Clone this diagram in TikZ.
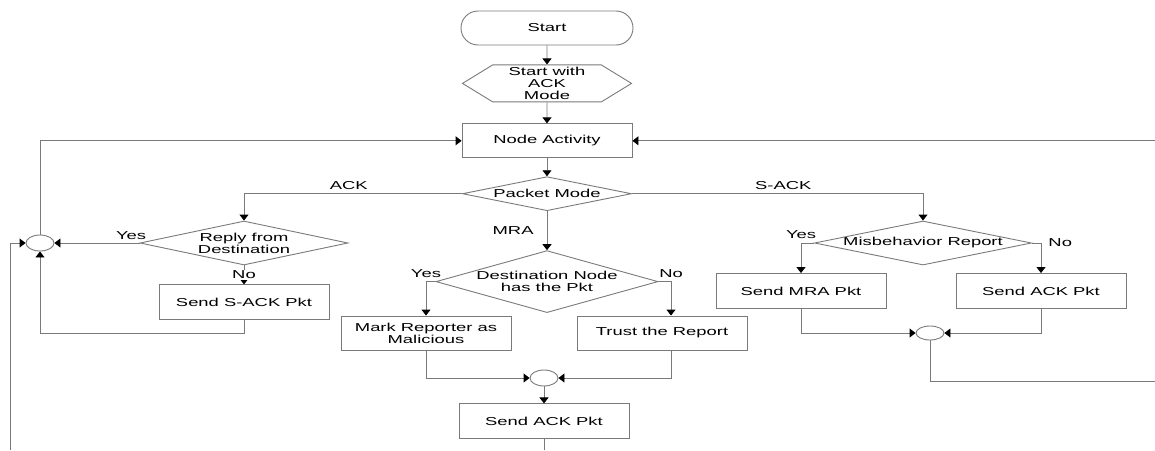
\documentclass[tikz,border=0pt]{standalone}
\usepackage{fontspec}
\usepackage{tikz}
\usetikzlibrary{arrows.meta, positioning, shapes.geometric, shapes.symbols}
\newfontfamily\flowfont{Liberation Sans}[FakeStretch=1.6]
\definecolor{flowgray}{HTML}{7A7A7A}

\begin{document}
\begin{tikzpicture}[
  x=1pt, y=1pt,
  font=\flowfont\fontsize{11.5}{12}\selectfont,
  line width=0.9pt,
  term/.style={draw=flowgray, rounded corners=17pt, minimum width=172pt, minimum height=34pt},
  hexa/.style={draw=flowgray, signal, signal to=west and east, signal pointer angle=63,
               minimum width=169pt, minimum height=37pt, inner sep=0pt, align=center},
  proc/.style={draw=flowgray, align=center, minimum width=170pt, minimum height=35pt, inner sep=2pt},
  dec/.style={draw=flowgray, diamond, align=center, inner sep=0pt},
  merge/.style={draw=flowgray, ellipse, minimum width=28pt, minimum height=16pt, inner sep=0pt},
  lbl/.style={inner sep=1pt},
  wire/.style={draw=flowgray},
  arr/.style={wire, -{Triangle[length=6pt, width=9pt, color=black]}},
]
\useasboundingbox (0,0) rectangle (1155,-450);

% main column
\node[term] (start) at (547,-28) {Start};
\node[hexa, below=19pt of start] (mode) {Start with\\ACK\\Mode};
\node[proc, minimum height=34pt, below=21pt of mode] (activity) {Node Activity};
\node[dec, aspect=4.97, minimum width=169pt, minimum height=34pt, below=18pt of activity] (pmode) {Packet Mode};
\node[dec, aspect=3.58, minimum width=222pt, minimum height=62pt, below=39pt of pmode] (dest) {Destination Node\\has the Pkt};

% ACK branch
\node[dec, aspect=4.73, minimum width=208pt, minimum height=44pt] (reply) at (244,-243) {Reply from\\Destination};
\node[proc, below=19pt of reply] (sack) {Send S-ACK Pkt};
\node[merge] (lcirc) at (40,-243) {};

% MRA branch
\node[proc, minimum height=34pt] (mark) at (426,-333) {Mark Reporter as\\Malicious};
\node[proc, minimum height=34pt] (trust) at (662,-333) {Trust the Report};
\node[merge] (mcirc) at (544,-378) {};
\node[proc, below=17pt of mcirc] (sendack) {Send ACK Pkt};

% S-ACK branch
\node[dec, aspect=4.93, minimum width=217pt, minimum height=44pt] (misb) at (923,-243) {Misbehavior Report};
\node[proc] (sendmra) at (801,-291) {Send MRA Pkt};
\node[proc] (sendackr) at (1041,-291) {Send ACK Pkt};
\node[merge, minimum height=14pt] (rcirc) at (930,-333) {};

% loose ends at the picture border
\coordinate (ledge) at (10,-450);
\coordinate (bedge) at (544,-450);
\coordinate (redge) at (1155,-381);
\coordinate (tedge) at (activity.east -| redge);

\draw[arr] (start) -- (mode);
\draw[arr] (mode) -- (activity);
\draw[arr] (activity) -- (pmode);
\draw[arr] (pmode.west) -| (reply.north) node[lbl, pos=0.26, above=3pt] {ACK};
\draw[arr] (pmode.east) -| (misb.north) node[lbl, pos=0.26, above=3pt] {S-ACK};
\draw[arr] (pmode.south) -- (dest.north) node[lbl, midway, left=12pt] {MRA};

\draw[arr] (reply.west) -- (lcirc.east) node[lbl, pos=0.1, above=2pt] {Yes};
\draw[arr] (reply.south) -- (sack.north) node[lbl, midway, fill=white] {No};
\draw[arr] (sack.south) -- ++(0,-13) -| (lcirc.south);
\draw[arr] (lcirc.north) |- (activity.west);
\draw[arr] (ledge) |- (lcirc.west);

\draw[arr] (dest.west) -| (mark.north) node[lbl, pos=0.5, above=3pt] {Yes};
\draw[arr] (dest.east) -| ([xshift=9pt]trust.north) node[lbl, pos=0.5, above=3pt] {No};
\draw[arr] (mark.south) |- (mcirc.west);
\draw[arr] ([xshift=9pt]trust.south) |- (mcirc.east);
\draw[arr] (mcirc) -- (sendack);
\draw[wire] (sendack.south) -- (bedge);

\draw[arr] (misb.west) -| (sendmra.north) node[lbl, pos=0.5, above=3pt] {Yes};
\draw[arr] (misb.east) -| (sendackr.north) node[lbl, pos=0.5, right=6pt] {No};
\draw[arr] (sendmra.south) |- (rcirc.west);
\draw[arr] (sendackr.south) |- (rcirc.east);
\draw[wire] (rcirc.south) |- (redge);
\draw[arr] (tedge) -- (activity.east);
\end{tikzpicture}
\end{document}
